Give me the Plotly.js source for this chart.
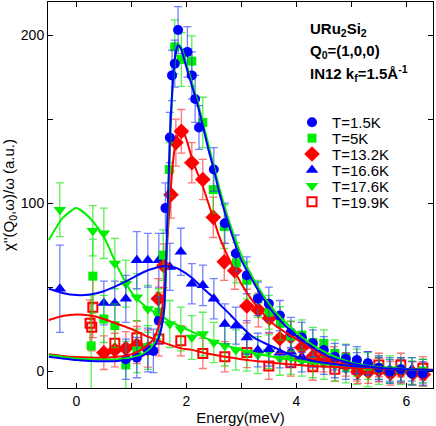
<!DOCTYPE html>
<html>
<head>
<meta charset="utf-8">
<script src="https://cdn.plot.ly/plotly-3.0.1.min.js"></script>
<style>html,body{margin:0;padding:0;background:#fff;}#chart{width:436px;height:426px;}</style>
</head>
<body>
<div id="chart"></div>
<script>
// ---- data ----
const seriesNames = ["T=1.5K", "T=5K", "T=13.2K", "T=16.6K", "T=17.6K", "T=19.9K"];

// T=1.5K (blue circles)
const e15 = [0.9, 1.1, 1.3, 1.4, 1.5, 1.62, 1.7, 1.74, 1.79, 1.85, 2.02, 2.1, 2.16, 2.23, 2.5, 2.7, 2.9, 3.1, 3.3, 3.5, 3.7, 3.9, 4.1, 4.3, 4.5, 4.7, 4.9, 5.1, 5.3, 5.5, 5.7, 5.9, 6.1, 6.3];
const v15 = [7, 8, 12.5, 12, 30, 97, 139, 176, 183, 203, 190, 176, 162, 145, 120, 88, 70, 57, 43, 40, 33, 23, 20, 16.5, 12.5, 8.5, 7.5, 6.5, 4.6, 2, -0.4, 1, -1.4, -1.4];
const d15 = [12, 12, 13, 13, 14, 15, 15, 15, 14, 14, 15, 14, 14, 13, 13, 12, 11, 11, 10, 10, 9, 9, 9, 8, 8, 8, 8, 8, 7, 7, 7, 7, 7, 7];

// T=5K (green squares)
const e5 = [0.27, 0.3, 0.5, 0.7, 0.9, 1.1, 1.3, 1.5, 1.58, 1.69, 1.79, 1.91, 2.1, 2.3, 2.49, 2.69, 2.91, 3.1, 3.3, 3.5, 3.71, 3.9, 4.1, 4.3, 4.5, 4.7, 4.9, 5.1, 5.3, 5.5, 5.7, 5.9, 6.1, 6.3];
const v5 = [15, 56.5, 31, 27, 3.6, 12, 14, 35, 69, 120, 193, 185.5, 184.5, 148, 108, 86, 64.5, 54, 43, 35, 28.4, 20.8, 21.4, 17, 16.5, 10.5, 8, 5, 3, 2, 0, 1, -1, 0];
const d5 = [30, 22, 14, 13, 14, 13, 13, 14, 15, 16, 16, 16, 15, 15, 14, 13, 12, 11, 11, 10, 10, 9, 9, 9, 8, 8, 8, 8, 8, 7, 7, 7, 7, 7];

// T=13.2K (red diamonds)
const e132 = [0.5, 0.7, 0.9, 1.1, 1.3, 1.49, 1.59, 1.72, 1.81, 1.91, 2.1, 2.3, 2.49, 2.69, 2.88, 3.1, 3.31, 3.51, 3.7, 3.9, 4.1, 4.3, 4.49, 4.68, 4.9, 5.12, 5.31, 5.5, 5.71, 5.9, 6.12, 6.31];
const v132 = [10.9, 12.5, 13.5, 15.5, 13.3, 43, 62.7, 105, 136, 142.7, 124, 114, 91.5, 65, 59.7, 38.7, 36.3, 31.4, 19.4, 20.4, 14, 8.5, 7.5, 6.5, 4, -0.4, -0.4, 0.5, -1.4, 0, -1.4, -2];
const d132 = [10, 10, 10, 11, 11, 12, 13, 14, 14, 13, 12, 12, 12, 11, 11, 10, 10, 9, 9, 9, 8, 8, 8, 8, 7, 7, 7, 7, 7, 7, 7, 7];

// T=16.6K (blue up-triangles)
const e166 = [-0.3, 0.5, 0.7, 0.9, 1.1, 1.3, 1.5, 1.7, 1.9, 2.1, 2.3, 2.5, 2.7, 2.9, 3.1, 3.3, 3.5, 3.7, 3.9, 4.1, 4.3, 4.5, 4.7, 4.9, 5.1, 5.3, 5.5, 5.7, 5.9, 6.1, 6.3];
const v166 = [49, 40.5, 40.5, 43, 66, 66, 66, 62, 71, 52, 51, 43, 28, 27, 20, 12.5, 13, 10.9, 11.5, 8.5, 10, 6, 4, 3, 3, 4.6, 1, 1, 0, 1, 0];
const d166 = [26, 13, 13, 14, 17, 16, 16, 14, 14, 12, 12, 12, 12, 11, 10, 10, 10, 9, 9, 9, 8, 8, 8, 8, 8, 7, 7, 7, 7, 7, 7];

// T=17.6K (green down-triangles)
const e176 = [-0.3, 0.3, 0.5, 0.7, 0.9, 1.1, 1.3, 1.5, 1.7, 1.9, 2.1, 2.3, 2.5, 2.7, 2.9, 3.1, 3.3, 3.5, 3.7, 3.9, 4.1, 4.3, 4.5, 4.7, 4.9, 5.1, 5.3, 5.5, 5.7, 5.9, 6.1, 6.3];
const v176 = [96, 83.5, 82, 64, 52, 44, 37, 33, 28, 25, 20, 22, 17, 15, 12.5, 11, 9.5, 11.5, 7.5, 8, 6, 5, 4, 3, 1, 0, -1.4, 0, 1, 0, 0, -1];
const d176 = [16, 15, 15, 15, 14, 14, 14, 14, 14, 13, 13, 13, 12, 12, 12, 11, 11, 10, 10, 10, 9, 9, 9, 9, 8, 8, 8, 8, 8, 8, 8, 8];

// T=19.9K (red open squares)
const e199 = [0.25, 0.28, 0.3, 0.7, 1.1, 1.5, 1.9, 2.3, 2.7, 3.1, 3.5, 3.9, 4.3, 4.7, 5.1, 5.5, 5.9, 6.3];
const v199 = [28.4, 26, 37.9, 16.5, 19.8, 19, 18, 10.5, 8.5, 11, 3, 5, 2.5, 1, 1, 3.6, 3.6, 1.6];
const d199 = [14, 14, 18, 10, 10, 10, 9, 9, 9, 9, 8, 8, 8, 7, 7, 7, 7, 7];

// fitted curves on a common energy grid
const eFit = [-0.5, -0.25, 0, 0.25, 0.5, 0.75, 1.0, 1.2, 1.3, 1.4, 1.5, 1.55, 1.6, 1.65, 1.7, 1.75, 1.8, 1.85, 1.9, 1.95, 2.0, 2.1, 2.2, 2.3, 2.4, 2.5, 2.6, 2.8, 3.0, 3.2, 3.4, 3.6, 3.8, 4.0, 4.3, 4.6, 5.0, 5.5, 6.0, 6.5];
const fit15  = [8.5, 7.5, 6.5, 6, 5.8, 6, 7, 9, 11, 14, 20, 26, 38, 85, 138, 170, 188, 194, 192, 187, 181, 170, 159, 146, 132, 120, 106, 84, 66, 54, 43, 34, 27, 21, 14, 8.5, 4.5, 2, 1, 0.6];
const fit5   = [9.5, 8.5, 7.5, 7, 6.8, 7, 8, 10, 12, 15.5, 21, 27, 37, 78, 132, 167, 186, 194, 193, 189, 183, 172, 161, 148, 135, 122, 109, 87, 69, 56, 45, 36, 29, 23, 15.5, 10, 5, 2.3, 1.1, 0.6];
const fit132 = [10, 9, 8.3, 8, 8, 8.5, 10, 13, 15.5, 19, 27, 35, 50, 75, 100, 122, 135, 141, 143, 142, 138, 127, 118, 110, 100, 90, 80, 65, 52, 42, 34, 27.5, 23, 19, 12.8, 8, 4.5, 2, 1, 0.5];
const fit166 = [49, 46.5, 45.2, 45.5, 47.5, 51, 55, 58.5, 60, 61, 62, 62.3, 62.5, 62.5, 62.3, 62, 61.5, 61, 60, 59, 58, 55.5, 52.5, 49.5, 46.5, 43.5, 40, 33.5, 26.5, 20.5, 17, 14, 11, 8.5, 6, 4.5, 3, 2, 1, 0.5];
const fit176 = [78, 91, 97, 91, 80, 62, 47, 40, 37.5, 35.5, 33.5, 32.5, 31.5, 30.5, 29.5, 28.7, 28, 27.2, 26.5, 25.8, 25, 23.5, 22, 20.5, 19, 17.8, 16.5, 14.5, 12.5, 11, 9.5, 8.3, 7.2, 6.2, 5, 4, 3, 2, 1.2, 0.6];
const fit199 = [30.4, 32.8, 33.7, 33, 31, 28, 25, 22, 20.5, 19.3, 18, 17.4, 16.8, 16.2, 15.6, 15, 14.5, 14, 13.6, 13.2, 13, 12.6, 11.8, 11, 10.3, 9.7, 9.1, 8, 7, 6.2, 5.5, 4.8, 4.2, 3.7, 3, 2.5, 2, 1.5, 1, 0.7];

// axis ticks (labelled majors; unlabelled minors halfway between)
const xTickVals = [0, 2, 4, 6];
const xTickText = ["0", "2", "4", "6"];
const yTickVals = [0, 100, 200];
const yTickText = ["0", "100", "200"];

// ---- styling ----
const BLUE = "#0000ff", GREEN = "#00ee00", RED = "#ff0000";
const BLUE_E = "rgba(40,60,255,0.65)", GREEN_E = "rgba(0,230,0,0.65)", RED_E = "rgba(255,40,40,0.65)";
const FONT = "Liberation Sans, Arial, Helvetica, sans-serif";

function pts(x, y, d, name, sym, col, ecol, size, leg, open) {
  return {
    type: "scatter", mode: "markers", x: x, y: y, name: name, legend: leg,
    marker: open ? {symbol: sym, size: size, color: col, line: {color: col, width: 2}}
                 : {symbol: sym, size: size, color: col, line: {width: 0}},
    error_y: {type: "data", array: d, visible: true, color: ecol, thickness: 1.3, width: 4},
    cliponaxis: true
  };
}
function fit(y, col) {
  return {type: "scatter", mode: "lines", x: eFit, y: y, showlegend: false, hoverinfo: "skip",
          line: {color: col, width: 2, shape: "spline", smoothing: 0.6}};
}

const traces = [
  pts(e199, v199, d199, seriesNames[5], "square-open", RED, RED_E, 9, "legend6", true),
  pts(e176, v176, d176, seriesNames[4], "triangle-down", GREEN, GREEN_E, 11, "legend5"),
  pts(e166, v166, d166, seriesNames[3], "triangle-up", BLUE, BLUE_E, 11, "legend4"),
  pts(e132, v132, d132, seriesNames[2], "diamond", RED, RED_E, 12, "legend3"),
  pts(e5, v5, d5, seriesNames[1], "square", GREEN, GREEN_E, 9, "legend2"),
  pts(e15, v15, d15, seriesNames[0], "circle", BLUE, BLUE_E, 10, "legend"),
  fit(fit199, RED), fit(fit176, GREEN), fit(fit166, BLUE),
  fit(fit132, RED), fit(fit5, GREEN), fit(fit15, BLUE)
];

const L = 48, R = 3, T = 2, B = 38, H = 426;
const plotH = H - T - B;
function py(p) { return (H - B - p) / plotH; }
const legRows = [122.5, 138.4, 154.3, 170.2, 186.1, 202];
const legKeys = ["legend", "legend2", "legend3", "legend4", "legend5", "legend6"];

const layout = {
  width: 436, height: 426,
  margin: {l: L, r: R, t: T, b: B},
  paper_bgcolor: "#fff", plot_bgcolor: "#fff",
  font: {family: FONT, size: 13, color: "#000"},
  showlegend: true,
  xaxis: {
    range: [-0.515, 6.485], tickvals: xTickVals, ticktext: xTickText,
    ticks: "inside", ticklen: 5, tickwidth: 1, tickcolor: "#000",
    minor: {dtick: 1, tick0: 0, ticks: "inside", ticklen: 5, tickwidth: 1, tickcolor: "#000", showgrid: false},
    showline: true, linecolor: "#000", linewidth: 1, mirror: "ticks",
    showgrid: false, zeroline: false,
    tickfont: {family: FONT, size: 14, color: "#000"},
    title: {text: "Energy(meV)", font: {family: FONT, size: 15, color: "#000"}, standoff: 4}
  },
  yaxis: {
    range: [-10.1, 219.7], tickvals: yTickVals, ticktext: yTickText,
    ticks: "inside", ticklen: 5, tickwidth: 1, tickcolor: "#000",
    minor: {dtick: 50, tick0: 0, ticks: "inside", ticklen: 5, tickwidth: 1, tickcolor: "#000", showgrid: false},
    showline: true, linecolor: "#000", linewidth: 1, mirror: "ticks",
    showgrid: false, zeroline: false,
    tickfont: {family: FONT, size: 14, color: "#000"},
    title: {text: "χ''(Q<sub>0</sub>,ω)/ω (a.u.)", font: {family: FONT, size: 15, color: "#000"}, standoff: 3}
  },
  annotations: [
    {xref: "paper", yref: "paper", x: (308 - L) / 385, y: py(29), xanchor: "left", yanchor: "middle", showarrow: false,
     text: "<b>URu<sub>2</sub>Si<sub>2</sub></b>", font: {family: FONT, size: 15, color: "#000"}},
    {xref: "paper", yref: "paper", x: (308 - L) / 385, y: py(51), xanchor: "left", yanchor: "middle", showarrow: false,
     text: "<b>Q<sub>0</sub>=(1,0,0)</b>", font: {family: FONT, size: 15, color: "#000"}},
    {xref: "paper", yref: "paper", x: (308 - L) / 385, y: py(73), xanchor: "left", yanchor: "middle", showarrow: false,
     text: "<b>IN12 k<sub>f</sub>=1.5Å<sup>-1</sup></b>", font: {family: FONT, size: 15, color: "#000"}}
  ]
};
legKeys.forEach(function (k, i) {
  layout[k] = {
    x: (292 - L) / 385, xanchor: "left", y: py(legRows[i]), yanchor: "middle",
    bgcolor: "rgba(0,0,0,0)", borderwidth: 0,
    font: {family: FONT, size: 15, color: "#000"}
  };
});

Plotly.newPlot("chart", traces, layout, {displayModeBar: false, staticPlot: true});
</script>
</body>
</html>
